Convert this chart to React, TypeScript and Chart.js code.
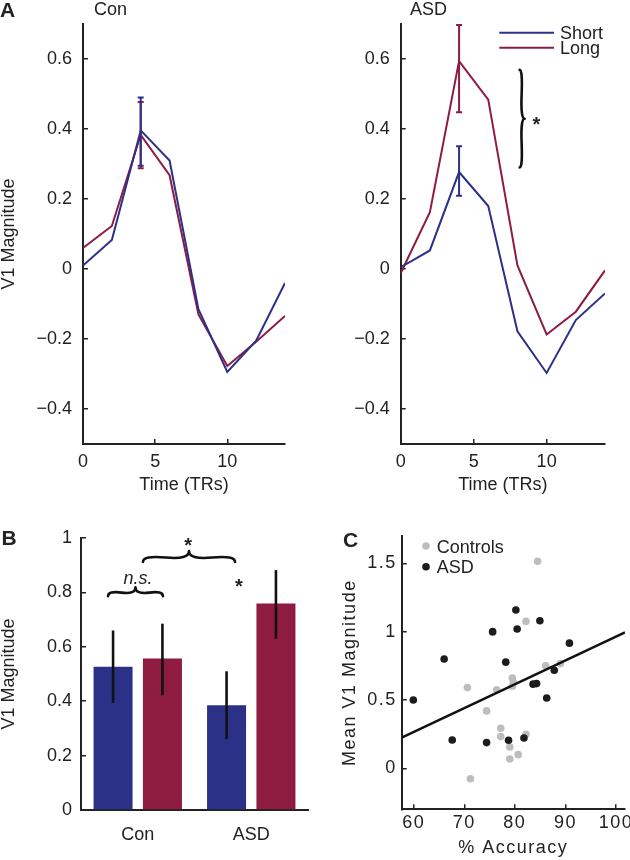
import React, { useEffect, useRef } from 'react';
import { Chart, registerables } from 'chart.js';

Chart.register(...registerables);

// ---------------- data ----------------
const timeTRs = [0, 2, 4, 6, 8, 10, 12, 14];
const conShort = [0.01, 0.083, 0.396, 0.31, -0.115, -0.294, -0.205, -0.04];
const conLong = [0.06, 0.123, 0.383, 0.268, -0.13, -0.277, -0.208, -0.134];
const asdShort = [0.005, 0.053, 0.277, 0.18, -0.178, -0.297, -0.146, -0.07];
const asdLong = [-0.012, 0.162, 0.594, 0.484, 0.01, -0.187, -0.122, -0.004];
const peakTime = 4;
const conShortErr = [0.295, 0.49];
const conLongErr = [0.288, 0.477];
const asdShortErr = [0.209, 0.351];
const asdLongErr = [0.448, 0.697];
const timeTicks = [0, 5, 10];
const magTicks = [-0.4, -0.2, 0, 0.2, 0.4, 0.6];
const seriesNames = ['Short', 'Long'];

const groups = ['Con', 'ASD'];
const shortMeans = [0.527, 0.385];
const longMeans = [0.557, 0.759];
const shortErrLow = [0.394, 0.261];
const shortErrHigh = [0.66, 0.51];
const longErrLow = [0.422, 0.63];
const longErrHigh = [0.685, 0.882];
const barTicks = [0, 0.2, 0.4, 0.6, 0.8, 1];

const scatterNames = ['Controls', 'ASD'];
const controlsAcc = [84.5, 82.2, 75.6, 70.6, 76.4, 79.5, 79.7, 79.5, 86.1, 89.0, 74.4, 77.2, 77.2, 79.0, 79.0, 80.65, 82.2, 71.2];
const controlsMag = [1.515, 1.075, 0.994, 0.591, 0.574, 0.66, 0.628, 0.6, 0.75, 0.767, 0.42, 0.293, 0.232, 0.156, 0.068, 0.1, 0.249, -0.076];
const asdAcc = [59.9, 66.0, 67.6, 74.4, 75.6, 78.2, 78.75, 80.2, 80.45, 81.8, 83.6, 84.3, 84.95, 86.3, 87.8, 90.8];
const asdMag = [0.5, 0.8, 0.207, 0.188, 1.0, 0.777, 0.205, 1.158, 1.019, 0.222, 0.616, 0.62, 1.08, 0.515, 0.718, 0.916];
const fitAcc = [57.6, 101.8];
const fitMag = [0.224, 0.994];
const accTicks = [60, 70, 80, 90, 100];
const meanTicks = [0, 0.5, 1, 1.5];

// ---------------- style ----------------
const FONT = "'Liberation Sans', Arial, Helvetica, sans-serif";
const INK = '#222';
const BLUE = '#2c3188';
const RED = '#8e1b40';
const GRAY = '#bdbdbd';
const DARK = '#1c1c1c';

Chart.defaults.font.family = FONT;
Chart.defaults.color = INK;

const fmt = (v: number) => (v < 0 ? '\u2212' + String(Math.abs(v)) : String(v));

function axis(o: any) {
  const ticks: any = {
    color: INK,
    font: { family: FONT, size: 18 },
    padding: o.pad,
    maxRotation: 0,
    minRotation: 0,
    autoSkip: false,
  };
  if (o.type === 'category') ticks.callback = (_v: any, i: number) => o.labels[i];
  else ticks.callback = (v: any) => fmt(Number(v));
  const a: any = {
    type: o.type || 'linear',
    offset: !!o.offset,
    border: { display: true, color: INK, width: 2 },
    grid: o.noTicks
      ? { display: false, drawTicks: false, tickLength: 0 }
      : { display: true, drawOnChartArea: false, drawTicks: true, tickLength: -5, color: INK, lineWidth: 1.5 },
    ticks,
    title: o.title
      ? { display: true, text: o.title, color: INK, font: { family: FONT, size: 18, lineHeight: 1 }, padding: o.titlePad || 0 }
      : { display: false },
    afterFit: (s: any) => {
      if (o.width != null) s.width = o.width;
      if (o.height != null) s.height = o.height;
      s.paddingLeft = 0;
      s.paddingRight = 0;
      s.paddingTop = 0;
      s.paddingBottom = 0;
    },
  };
  if (o.min != null) a.min = o.min;
  if (o.max != null) a.max = o.max;
  if (o.tickValues) a.afterBuildTicks = (s: any) => { s.ticks = o.tickValues.map((v: number) => ({ value: v })); };
  return a;
}

function txt(ctx: CanvasRenderingContext2D, s: string, x: number, y: number, font: string, align: CanvasTextAlign = 'left', color = INK) {
  ctx.save();
  ctx.font = font;
  ctx.fillStyle = color;
  ctx.textAlign = align;
  ctx.textBaseline = 'alphabetic';
  ctx.fillText(s, x, y);
  ctx.restore();
}

function star(ctx: CanvasRenderingContext2D, x: number, cy: number) {
  txt(ctx, '*', x, cy + 11.5, `bold 20px ${FONT}`, 'center');
}

function vErr(ctx: CanvasRenderingContext2D, x: number, y1: number, y2: number, color: string, lw: number, cap: number) {
  ctx.save();
  ctx.strokeStyle = color;
  ctx.lineWidth = lw;
  ctx.beginPath();
  ctx.moveTo(x, y1);
  ctx.lineTo(x, y2);
  if (cap > 0) {
    ctx.moveTo(x - cap, y1);
    ctx.lineTo(x + cap, y1);
    ctx.moveTo(x - cap, y2);
    ctx.lineTo(x + cap, y2);
  }
  ctx.stroke();
  ctx.restore();
}

// curly brace from (x1,y1) to (x2,y2); tip on the left side of the travel direction
function brace(ctx: CanvasRenderingContext2D, x1: number, y1: number, x2: number, y2: number, w: number, q = 0.6) {
  let dx = x1 - x2;
  let dy = y1 - y2;
  const len = Math.hypot(dx, dy);
  dx /= len;
  dy /= len;
  const qx1 = x1 + q * w * dy, qy1 = y1 - q * w * dx;
  const qx2 = x1 - 0.25 * len * dx + (1 - q) * w * dy, qy2 = y1 - 0.25 * len * dy - (1 - q) * w * dx;
  const tx = x1 - 0.5 * len * dx + w * dy, ty = y1 - 0.5 * len * dy - w * dx;
  const qx3 = x2 + q * w * dy, qy3 = y2 - q * w * dx;
  const qx4 = x1 - 0.75 * len * dx + (1 - q) * w * dy, qy4 = y1 - 0.75 * len * dy - (1 - q) * w * dx;
  ctx.save();
  ctx.strokeStyle = '#111';
  ctx.lineWidth = 2.6;
  ctx.lineCap = 'round';
  ctx.beginPath();
  ctx.moveTo(x1, y1);
  ctx.quadraticCurveTo(qx1, qy1, qx2, qy2);
  ctx.quadraticCurveTo(2 * qx2 - qx1, 2 * qy2 - qy1, tx, ty);
  ctx.moveTo(x2, y2);
  ctx.quadraticCurveTo(qx3, qy3, qx4, qy4);
  ctx.quadraticCurveTo(2 * qx4 - qx3, 2 * qy4 - qy3, tx, ty);
  ctx.stroke();
  ctx.restore();
}

const pts = (xs: number[], ys: number[]) => xs.map((x, i) => ({ x, y: ys[i] }));

function lineConfig(shortVals: number[], longVals: number[], yWidth: number, withTitle: boolean, plugin: any) {
  return {
    type: 'line',
    data: {
      datasets: [
        { label: seriesNames[0], data: pts(timeTRs, shortVals), borderColor: BLUE, borderWidth: 2, pointRadius: 0, tension: 0, fill: false },
        { label: seriesNames[1], data: pts(timeTRs, longVals), borderColor: RED, borderWidth: 2, pointRadius: 0, tension: 0, fill: false },
      ],
    },
    options: {
      animation: false,
      responsive: false,
      devicePixelRatio: 1,
      layout: { padding: { top: 24, right: 25, left: 0, bottom: 0 } },
      plugins: { legend: { display: false }, tooltip: { enabled: false } },
      scales: {
        x: axis({ min: 0, max: 14, tickValues: timeTicks, height: 56, pad: 12, title: 'Time (TRs)', titlePad: { top: 0, bottom: 6 } }),
        y: axis({ min: -0.5, max: 0.7, tickValues: magTicks, width: yWidth, pad: 16, title: withTitle ? 'V1 Magnitude' : undefined }),
      },
    },
    plugins: [plugin],
  };
}

const conPlugin = {
  id: 'conAnnot',
  afterDatasetsDraw(chart: any) {
    const { ctx, scales } = chart;
    const x = scales.x.getPixelForValue(peakTime);
    vErr(ctx, x, scales.y.getPixelForValue(conLongErr[0]), scales.y.getPixelForValue(conLongErr[1]), RED, 2, 3);
    vErr(ctx, x, scales.y.getPixelForValue(conShortErr[0]), scales.y.getPixelForValue(conShortErr[1]), BLUE, 2, 3);
  },
  afterDraw(chart: any) {
    const { ctx, chartArea } = chart;
    txt(ctx, 'A', 0, 16.7, `bold 21px ${FONT}`);
    txt(ctx, groups[0], chartArea.left + 27.5, 15, `18px ${FONT}`, 'center');
  },
};

const asdPlugin = {
  id: 'asdAnnot',
  afterDatasetsDraw(chart: any) {
    const { ctx, scales } = chart;
    const x = scales.x.getPixelForValue(peakTime);
    vErr(ctx, x, scales.y.getPixelForValue(asdLongErr[0]), scales.y.getPixelForValue(asdLongErr[1]), RED, 2, 3);
    vErr(ctx, x, scales.y.getPixelForValue(asdShortErr[0]), scales.y.getPixelForValue(asdShortErr[1]), BLUE, 2, 3);
  },
  afterDraw(chart: any) {
    const { ctx, chartArea, scales } = chart;
    txt(ctx, groups[1], chartArea.left + 27.8, 15, `18px ${FONT}`, 'center');
    // legend
    const ds = chart.data.datasets;
    ds.forEach((d: any, i: number) => {
      const ly = chartArea.top + 8.7 + i * 15;
      ctx.save();
      ctx.strokeStyle = d.borderColor;
      ctx.lineWidth = 2;
      ctx.beginPath();
      ctx.moveTo(chartArea.right - 105.7, ly);
      ctx.lineTo(chartArea.right - 51, ly);
      ctx.stroke();
      ctx.restore();
      txt(ctx, d.label, chartArea.right - 45, ly + 6, `18px ${FONT}`);
    });
    // significance brace
    const bx = scales.x.getPixelForValue(8.15);
    brace(ctx, bx, scales.y.getPixelForValue(0.29), bx, scales.y.getPixelForValue(0.569), 5, 0.6);
    star(ctx, scales.x.getPixelForValue(9.3), scales.y.getPixelForValue(0.427));
  },
};

const barPlugin = {
  id: 'barAnnot',
  afterDatasetsDraw(chart: any) {
    const { ctx, scales } = chart;
    const lows = [shortErrLow, longErrLow];
    const highs = [shortErrHigh, longErrHigh];
    [0, 1].forEach((di) => {
      const meta = chart.getDatasetMeta(di);
      meta.data.forEach((bar: any, j: number) => {
        vErr(ctx, bar.x, scales.y.getPixelForValue(lows[di][j]), scales.y.getPixelForValue(highs[di][j]), '#111', 2.6, 0);
      });
    });
  },
  afterDraw(chart: any) {
    const { ctx, scales } = chart;
    const X = (v: number) => scales.x.getPixelForValue(v);
    const Y = (v: number) => scales.y.getPixelForValue(v);
    txt(ctx, 'B', 1.5, 45, `bold 21px ${FONT}`);
    brace(ctx, X(0.222), Y(0.786), X(-0.262), Y(0.786), 9, 0.6);
    txt(ctx, 'n.s.', X(0.002), Y(0.831), `italic 18px ${FONT}`, 'center');
    brace(ctx, X(0.857), Y(0.912), X(0.046), Y(0.912), 11, 0.6);
    star(ctx, X(0.443), Y(0.989));
    star(ctx, X(0.892), Y(0.84));
  },
};

const scatterPlugin = {
  id: 'scatterAnnot',
  beforeDraw(chart: any) {
    (chart.ctx as any).letterSpacing = '1.5px';
  },
  afterDraw(chart: any) {
    const { ctx, chartArea } = chart;
    (ctx as any).letterSpacing = '0px';
    txt(ctx, 'C', 28, 47, `bold 21px ${FONT}`);
    const rows = [
      { label: scatterNames[0], color: GRAY, dy: 10 },
      { label: scatterNames[1], color: DARK, dy: 30.7 },
    ];
    rows.forEach((r) => {
      const cx = chartArea.left + 24.3;
      const cy = chartArea.top + r.dy;
      ctx.save();
      ctx.fillStyle = r.color;
      ctx.beginPath();
      ctx.arc(cx, cy, 3.8, 0, Math.PI * 2);
      ctx.fill();
      ctx.restore();
      txt(ctx, r.label, chartArea.left + 35, cy + 6.6, `18px ${FONT}`);
    });
  },
};

function makeA1() {
  return lineConfig(conShort, conLong, 83, true, conPlugin);
}
function makeA2() {
  return lineConfig(asdShort, asdLong, 90.7, false, asdPlugin);
}
function makeB() {
  return {
    type: 'bar',
    data: {
      labels: groups,
      datasets: [
        { label: seriesNames[0], data: shortMeans, backgroundColor: BLUE, categoryPercentage: 0.87, barPercentage: 0.79 },
        { label: seriesNames[1], data: longMeans, backgroundColor: RED, categoryPercentage: 0.87, barPercentage: 0.79 },
      ],
    },
    options: {
      animation: false,
      responsive: false,
      devicePixelRatio: 1,
      layout: { padding: { top: 38, right: 7, left: 0, bottom: 0 } },
      plugins: { legend: { display: false }, tooltip: { enabled: false } },
      scales: {
        x: axis({ type: 'category', labels: groups, offset: true, noTicks: true, height: 50, pad: 14 }),
        y: axis({ min: 0, max: 1, tickValues: barTicks, width: 81, pad: 14, title: 'V1 Magnitude' }),
      },
    },
    plugins: [barPlugin],
  };
}
function makeC() {
  return {
    type: 'scatter',
    data: {
      datasets: [
        { label: scatterNames[1], data: pts(asdAcc, asdMag), backgroundColor: DARK, borderWidth: 0, pointRadius: 3.8 },
        { label: 'fit', data: pts(fitAcc, fitMag), showLine: true, borderColor: '#111', borderWidth: 2.5, pointRadius: 0, fill: false },
        { label: scatterNames[0], data: pts(controlsAcc, controlsMag), backgroundColor: GRAY, borderWidth: 0, pointRadius: 3.8 },
      ],
    },
    options: {
      animation: false,
      responsive: false,
      devicePixelRatio: 1,
      layout: { padding: { top: 36, right: 5, left: 26.5, bottom: 0 } },
      plugins: { legend: { display: false }, tooltip: { enabled: false } },
      scales: {
        x: axis({ min: 57.6, max: 101.8, tickValues: accTicks, height: 50.7, pad: 8, title: '% Accuracy', titlePad: { top: 0, bottom: 3 } }),
        y: axis({ min: -0.3, max: 1.7, tickValues: meanTicks, width: 60.2, pad: 10, title: 'Mean V1 Magnitude' }),
      },
    },
    plugins: [scatterPlugin],
  };
}

function ChartBox(props: { left: number; top: number; width: number; height: number; make: () => any }) {
  const ref = useRef<HTMLCanvasElement | null>(null);
  useEffect(() => {
    if (!ref.current) return;
    const chart = new Chart(ref.current, props.make());
    return () => chart.destroy();
  }, []);
  return (
    <canvas
      ref={ref}
      width={props.width}
      height={props.height}
      style={{ position: 'absolute', left: props.left, top: props.top, width: props.width, height: props.height, display: 'block' }}
    />
  );
}

export default function App() {
  return (
    <div style={{ position: 'absolute', left: 0, top: 0, width: 630, height: 860, background: '#fff', overflow: 'hidden' }}>
      <ChartBox left={0} top={0} width={310} height={500} make={makeA1} />
      <ChartBox left={310} top={0} width={320} height={500} make={makeA2} />
      <ChartBox left={0} top={500} width={315} height={360} make={makeB} />
      <ChartBox left={315} top={500} width={315} height={360} make={makeC} />
    </div>
  );
}
